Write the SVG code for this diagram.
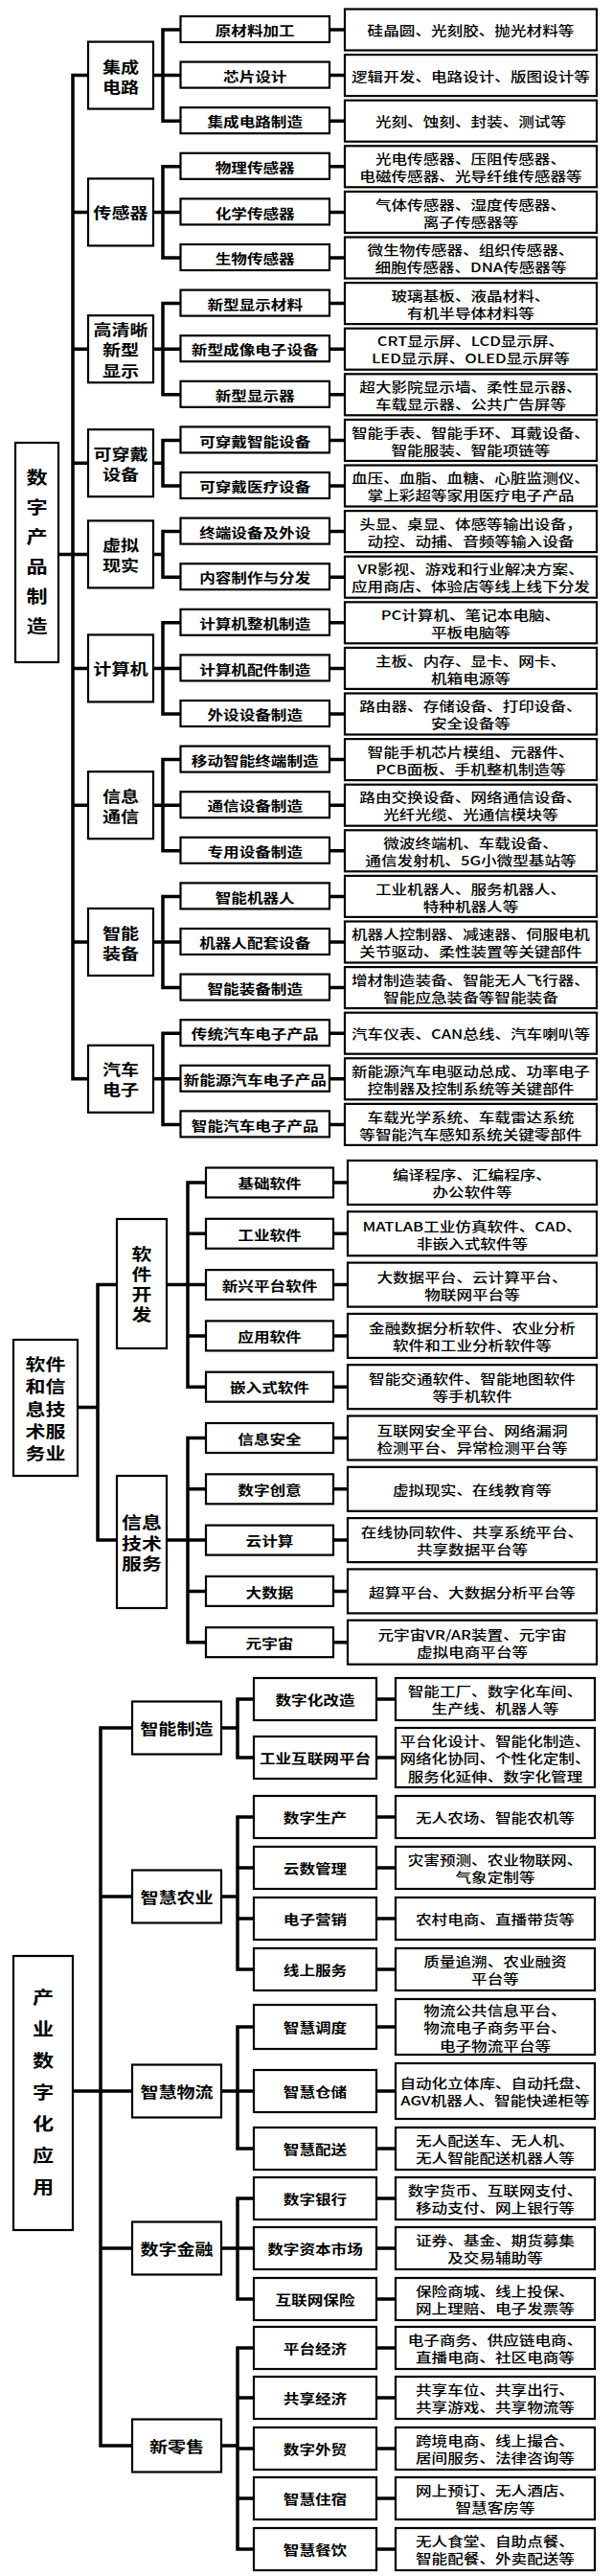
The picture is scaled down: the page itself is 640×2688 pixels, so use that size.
<svg xmlns="http://www.w3.org/2000/svg" width="640" height="2688" viewBox="0 0 640 2688">
<style>
.bx{fill:#fff;stroke:#000;stroke-width:2.2}
.cn path{fill:none;stroke:#000;stroke-width:3.5;stroke-linecap:square}
text{font-family:"Noto Sans CJK SC","Noto Sans CJK JP",sans-serif;fill:#000;text-anchor:middle;transform-box:fill-box;transform-origin:center;transform:scaleX(1.23)}
text,tspan{dominant-baseline:central}
.d{font-size:13.5px;font-weight:500}
.s{font-size:13.5px;font-weight:700}
.m{font-size:15.5px;font-weight:700}
.m2{font-size:17px;font-weight:700}
.r{font-size:18px;font-weight:700}
</style>
<rect width="640" height="2688" fill="#fff"/>
<g id="connectors" class="cn">
<path d="M76 78.6V1125.8M61 578.4H76M76 78.6H92M76 221.4H92M76 364.2H92M76 483.2H92M76 578.4H92M76 697.4H92M76 840.2H92M76 983H92M76 1125.8H92
M160 78.6H170M170 31V126.2M160 221.4H170M170 173.8V269M160 364.2H170M170 316.6V411.8M160 483.2H170M170 459.4V507M160 578.4H170M170 554.6V602.2M160 697.4H170M170 649.8V745M160 840.2H170M170 792.6V887.8M160 983H170M170 935.4V1030.6M160 1125.8H170M170 1078.2V1173.4
M170 31H188.5M170 78.6H188.5M170 126.2H188.5M170 173.8H188.5M170 221.4H188.5M170 269H188.5M170 316.6H188.5M170 364.2H188.5M170 411.8H188.5M170 459.4H188.5M170 507H188.5M170 554.6H188.5M170 602.2H188.5M170 649.8H188.5M170 697.4H188.5M170 745H188.5M170 792.6H188.5M170 840.2H188.5M170 887.8H188.5M170 935.4H188.5M170 983H188.5M170 1030.6H188.5M170 1078.2H188.5M170 1125.8H188.5M170 1173.4H188.5
M344 31H360M344 78.6H360M344 126.2H360M344 173.8H360M344 221.4H360M344 269H360M344 316.6H360M344 364.2H360M344 411.8H360M344 459.4H360M344 507H360M344 554.6H360M344 602.2H360M344 649.8H360M344 697.4H360M344 745H360M344 792.6H360M344 840.2H360M344 887.8H360M344 935.4H360M344 983H360M344 1030.6H360M344 1078.2H360M344 1125.8H360M344 1173.4H360"/>
<path d="M102 1340.6V1607.1M81 1468.5H102M102 1340.6H122M102 1607.1H122M174 1340.6H196M196 1234V1447.2M174 1607.1H196M196 1500.5V1713.7
M196 1234H215M196 1287.3H215M196 1340.6H215M196 1393.9H215M196 1447.2H215M196 1500.5H215M196 1553.8H215M196 1607.1H215M196 1660.4H215M196 1713.7H215
M348 1234H363M348 1287.3H363M348 1340.6H363M348 1393.9H363M348 1447.2H363M348 1500.5H363M348 1553.8H363M348 1607.1H363M348 1660.4H363M348 1713.7H363"/>
<path d="M105 1803V2552M76 2182H105M105 1803H138M105 1979H138M105 2182H138M105 2346H138M105 2552H138
M231 1803H248M248 1773V1834M231 1979H248M248 1896V2055M231 2182H248M248 2115V2242M231 2346H248M248 2294V2399M231 2552H248M248 2450V2660
M248 1773H265M248 1834H265M248 1896H265M248 1949H265M248 2002H265M248 2055H265M248 2115H265M248 2182H265M248 2242H265M248 2294H265M248 2346H265M248 2399H265M248 2450H265M248 2502H265M248 2555H265M248 2607H265M248 2660H265
M393 1773H413M393 1834H413M393 1896H413M393 1949H413M393 2002H413M393 2055H413M393 2115H413M393 2182H413M393 2242H413M393 2294H413M393 2346H413M393 2399H413M393 2450H413M393 2502H413M393 2555H413M393 2607H413M393 2660H413"/>
</g>

<g id="sec1">
<g id="n1"><rect class="bx" x="16" y="462" width="45" height="229"/><text class="r"><tspan x="38.5" y="497">数</tspan><tspan x="38.5" y="528">字</tspan><tspan x="38.5" y="559">产</tspan><tspan x="38.5" y="590">品</tspan><tspan x="38.5" y="621">制</tspan><tspan x="38.5" y="652">造</tspan></text></g>

<g id="n1a"><rect class="bx" x="92" y="43.6" width="68" height="70"/><text class="m"><tspan x="126" y="68.6">集成</tspan><tspan x="126" y="89.6">电路</tspan></text></g>
<g id="n1b"><rect class="bx" x="92" y="186.4" width="68" height="70"/><text class="m" x="126" y="221.4">传感器</text></g>
<g id="n1c"><rect class="bx" x="92" y="329.2" width="68" height="70"/><text class="m"><tspan x="126" y="342.7">高清晰</tspan><tspan x="126" y="364.2">新型</tspan><tspan x="126" y="385.7">显示</tspan></text></g>
<g id="n1d"><rect class="bx" x="92" y="448.2" width="68" height="70"/><text class="m"><tspan x="126" y="472.7">可穿戴</tspan><tspan x="126" y="493.7">设备</tspan></text></g>
<g id="n1e"><rect class="bx" x="92" y="543.4" width="68" height="70"/><text class="m"><tspan x="126" y="567.9">虚拟</tspan><tspan x="126" y="588.9">现实</tspan></text></g>
<g id="n1f"><rect class="bx" x="92" y="662.4" width="68" height="70"/><text class="m" x="126" y="697.4">计算机</text></g>
<g id="n1g"><rect class="bx" x="92" y="805.2" width="68" height="70"/><text class="m"><tspan x="126" y="829.7">信息</tspan><tspan x="126" y="850.7">通信</tspan></text></g>
<g id="n1h"><rect class="bx" x="92" y="948" width="68" height="70"/><text class="m"><tspan x="126" y="972.5">智能</tspan><tspan x="126" y="993.5">装备</tspan></text></g>
<g id="n1i"><rect class="bx" x="92" y="1090.8" width="68" height="70"/><text class="m"><tspan x="126" y="1115.3">汽车</tspan><tspan x="126" y="1136.3">电子</tspan></text></g>

<g id="r1_0"><rect class="bx" x="188.5" y="17" width="155.5" height="27"/><text class="s" x="266.25" y="31">原材料加工</text></g>
<g id="d1_0"><rect class="bx" x="360" y="9.5" width="263" height="43"/><text class="d" x="491.5" y="31">硅晶圆、光刻胶、抛光材料等</text></g>
<g id="r1_1"><rect class="bx" x="188.5" y="64.6" width="155.5" height="27"/><text class="s" x="266.25" y="78.6">芯片设计</text></g>
<g id="d1_1"><rect class="bx" x="360" y="57.1" width="263" height="43"/><text class="d" x="491.5" y="78.6">逻辑开发、电路设计、版图设计等</text></g>
<g id="r1_2"><rect class="bx" x="188.5" y="112.2" width="155.5" height="27"/><text class="s" x="266.25" y="126.2">集成电路制造</text></g>
<g id="d1_2"><rect class="bx" x="360" y="104.7" width="263" height="43"/><text class="d" x="491.5" y="126.2">光刻、蚀刻、封装、测试等</text></g>
<g id="r1_3"><rect class="bx" x="188.5" y="159.8" width="155.5" height="27"/><text class="s" x="266.25" y="173.8">物理传感器</text></g>
<g id="d1_3"><rect class="bx" x="360" y="152.3" width="263" height="43"/><text class="d"><tspan x="491.5" y="164.8">光电传感器、压阻传感器、</tspan><tspan x="491.5" y="182.8">电磁传感器、光导纤维传感器等</tspan></text></g>
<g id="r1_4"><rect class="bx" x="188.5" y="207.4" width="155.5" height="27"/><text class="s" x="266.25" y="221.4">化学传感器</text></g>
<g id="d1_4"><rect class="bx" x="360" y="199.9" width="263" height="43"/><text class="d"><tspan x="491.5" y="212.4">气体传感器、湿度传感器、</tspan><tspan x="491.5" y="230.4">离子传感器等</tspan></text></g>
<g id="r1_5"><rect class="bx" x="188.5" y="255" width="155.5" height="27"/><text class="s" x="266.25" y="269">生物传感器</text></g>
<g id="d1_5"><rect class="bx" x="360" y="247.5" width="263" height="43"/><text class="d"><tspan x="491.5" y="260">微生物传感器、组织传感器、</tspan><tspan x="491.5" y="278">细胞传感器、DNA传感器等</tspan></text></g>
<g id="r1_6"><rect class="bx" x="188.5" y="302.6" width="155.5" height="27"/><text class="s" x="266.25" y="316.6">新型显示材料</text></g>
<g id="d1_6"><rect class="bx" x="360" y="295.1" width="263" height="43"/><text class="d"><tspan x="491.5" y="307.6">玻璃基板、液晶材料、</tspan><tspan x="491.5" y="325.6">有机半导体材料等</tspan></text></g>
<g id="r1_7"><rect class="bx" x="188.5" y="350.2" width="155.5" height="27"/><text class="s" x="266.25" y="364.2">新型成像电子设备</text></g>
<g id="d1_7"><rect class="bx" x="360" y="342.7" width="263" height="43"/><text class="d"><tspan x="491.5" y="355.2">CRT显示屏、LCD显示屏、</tspan><tspan x="491.5" y="373.2">LED显示屏、OLED显示屏等</tspan></text></g>
<g id="r1_8"><rect class="bx" x="188.5" y="397.8" width="155.5" height="27"/><text class="s" x="266.25" y="411.8">新型显示器</text></g>
<g id="d1_8"><rect class="bx" x="360" y="390.3" width="263" height="43"/><text class="d"><tspan x="491.5" y="402.8">超大影院显示墙、柔性显示器、</tspan><tspan x="491.5" y="420.8">车载显示器、公共广告屏等</tspan></text></g>
<g id="r1_9"><rect class="bx" x="188.5" y="445.4" width="155.5" height="27"/><text class="s" x="266.25" y="459.4">可穿戴智能设备</text></g>
<g id="d1_9"><rect class="bx" x="360" y="437.9" width="263" height="43"/><text class="d"><tspan x="491.5" y="450.4">智能手表、智能手环、耳戴设备、</tspan><tspan x="491.5" y="468.4">智能服装、智能项链等</tspan></text></g>
<g id="r1_10"><rect class="bx" x="188.5" y="493" width="155.5" height="27"/><text class="s" x="266.25" y="507">可穿戴医疗设备</text></g>
<g id="d1_10"><rect class="bx" x="360" y="485.5" width="263" height="43"/><text class="d"><tspan x="491.5" y="498">血压、血脂、血糖、心脏监测仪、</tspan><tspan x="491.5" y="516">掌上彩超等家用医疗电子产品</tspan></text></g>
<g id="r1_11"><rect class="bx" x="188.5" y="540.6" width="155.5" height="27"/><text class="s" x="266.25" y="554.6">终端设备及外设</text></g>
<g id="d1_11"><rect class="bx" x="360" y="533.1" width="263" height="43"/><text class="d"><tspan x="491.5" y="545.6">头显、桌显、体感等输出设备，</tspan><tspan x="491.5" y="563.6">动控、动捕、音频等输入设备</tspan></text></g>
<g id="r1_12"><rect class="bx" x="188.5" y="588.2" width="155.5" height="27"/><text class="s" x="266.25" y="602.2">内容制作与分发</text></g>
<g id="d1_12"><rect class="bx" x="360" y="580.7" width="263" height="43"/><text class="d"><tspan x="491.5" y="593.2">VR影视、游戏和行业解决方案、</tspan><tspan x="491.5" y="611.2">应用商店、体验店等线上线下分发</tspan></text></g>
<g id="r1_13"><rect class="bx" x="188.5" y="635.8" width="155.5" height="27"/><text class="s" x="266.25" y="649.8">计算机整机制造</text></g>
<g id="d1_13"><rect class="bx" x="360" y="628.3" width="263" height="43"/><text class="d"><tspan x="491.5" y="640.8">PC计算机、笔记本电脑、</tspan><tspan x="491.5" y="658.8">平板电脑等</tspan></text></g>
<g id="r1_14"><rect class="bx" x="188.5" y="683.4" width="155.5" height="27"/><text class="s" x="266.25" y="697.4">计算机配件制造</text></g>
<g id="d1_14"><rect class="bx" x="360" y="675.9" width="263" height="43"/><text class="d"><tspan x="491.5" y="688.4">主板、内存、显卡、网卡、</tspan><tspan x="491.5" y="706.4">机箱电源等</tspan></text></g>
<g id="r1_15"><rect class="bx" x="188.5" y="731" width="155.5" height="27"/><text class="s" x="266.25" y="745">外设设备制造</text></g>
<g id="d1_15"><rect class="bx" x="360" y="723.5" width="263" height="43"/><text class="d"><tspan x="491.5" y="736">路由器、存储设备、打印设备、</tspan><tspan x="491.5" y="754">安全设备等</tspan></text></g>
<g id="r1_16"><rect class="bx" x="188.5" y="778.6" width="155.5" height="27"/><text class="s" x="266.25" y="792.6">移动智能终端制造</text></g>
<g id="d1_16"><rect class="bx" x="360" y="771.1" width="263" height="43"/><text class="d"><tspan x="491.5" y="783.6">智能手机芯片模组、元器件、</tspan><tspan x="491.5" y="801.6">PCB面板、手机整机制造等</tspan></text></g>
<g id="r1_17"><rect class="bx" x="188.5" y="826.2" width="155.5" height="27"/><text class="s" x="266.25" y="840.2">通信设备制造</text></g>
<g id="d1_17"><rect class="bx" x="360" y="818.7" width="263" height="43"/><text class="d"><tspan x="491.5" y="831.2">路由交换设备、网络通信设备、</tspan><tspan x="491.5" y="849.2">光纤光缆、光通信模块等</tspan></text></g>
<g id="r1_18"><rect class="bx" x="188.5" y="873.8" width="155.5" height="27"/><text class="s" x="266.25" y="887.8">专用设备制造</text></g>
<g id="d1_18"><rect class="bx" x="360" y="866.3" width="263" height="43"/><text class="d"><tspan x="491.5" y="878.8">微波终端机、车载设备、</tspan><tspan x="491.5" y="896.8">通信发射机、5G小微型基站等</tspan></text></g>
<g id="r1_19"><rect class="bx" x="188.5" y="921.4" width="155.5" height="27"/><text class="s" x="266.25" y="935.4">智能机器人</text></g>
<g id="d1_19"><rect class="bx" x="360" y="913.9" width="263" height="43"/><text class="d"><tspan x="491.5" y="926.4">工业机器人、服务机器人、</tspan><tspan x="491.5" y="944.4">特种机器人等</tspan></text></g>
<g id="r1_20"><rect class="bx" x="188.5" y="969" width="155.5" height="27"/><text class="s" x="266.25" y="983">机器人配套设备</text></g>
<g id="d1_20"><rect class="bx" x="360" y="961.5" width="263" height="43"/><text class="d"><tspan x="491.5" y="974">机器人控制器、减速器、伺服电机</tspan><tspan x="491.5" y="992">关节驱动、柔性装置等关键部件</tspan></text></g>
<g id="r1_21"><rect class="bx" x="188.5" y="1016.6" width="155.5" height="27"/><text class="s" x="266.25" y="1030.6">智能装备制造</text></g>
<g id="d1_21"><rect class="bx" x="360" y="1009.1" width="263" height="43"/><text class="d"><tspan x="491.5" y="1021.6">增材制造装备、智能无人飞行器、</tspan><tspan x="491.5" y="1039.6">智能应急装备等智能装备</tspan></text></g>
<g id="r1_22"><rect class="bx" x="188.5" y="1064.2" width="155.5" height="27"/><text class="s" x="266.25" y="1078.2">传统汽车电子产品</text></g>
<g id="d1_22"><rect class="bx" x="360" y="1056.7" width="263" height="43"/><text class="d" x="491.5" y="1078.2">汽车仪表、CAN总线、汽车喇叭等</text></g>
<g id="r1_23"><rect class="bx" x="188.5" y="1111.8" width="155.5" height="27"/><text class="s" x="266.25" y="1125.8">新能源汽车电子产品</text></g>
<g id="d1_23"><rect class="bx" x="360" y="1104.3" width="263" height="43"/><text class="d"><tspan x="491.5" y="1116.8">新能源汽车电驱动总成、功率电子</tspan><tspan x="491.5" y="1134.8">控制器及控制系统等关键部件</tspan></text></g>
<g id="r1_24"><rect class="bx" x="188.5" y="1159.4" width="155.5" height="27"/><text class="s" x="266.25" y="1173.4">智能汽车电子产品</text></g>
<g id="d1_24"><rect class="bx" x="360" y="1151.9" width="263" height="43"/><text class="d"><tspan x="491.5" y="1164.4">车载光学系统、车载雷达系统</tspan><tspan x="491.5" y="1182.4">等智能汽车感知系统关键零部件</tspan></text></g>
</g>

<g id="sec2">
<g id="n2"><rect class="bx" x="14" y="1398" width="67" height="142"/><text class="m2"><tspan x="47.5" y="1422">软件</tspan><tspan x="47.5" y="1445">和信</tspan><tspan x="47.5" y="1468.5">息技</tspan><tspan x="47.5" y="1492">术服</tspan><tspan x="47.5" y="1515">务业</tspan></text></g>
<g id="n2a"><rect class="bx" x="122" y="1272" width="52" height="135"/><text class="m2"><tspan x="148" y="1307">软</tspan><tspan x="148" y="1328">件</tspan><tspan x="148" y="1349">开</tspan><tspan x="148" y="1370">发</tspan></text></g>
<g id="n2b"><rect class="bx" x="122" y="1540" width="52" height="138"/><text class="m2"><tspan x="148" y="1587">信息</tspan><tspan x="148" y="1608.5">技术</tspan><tspan x="148" y="1630">服务</tspan></text></g>

<g id="r2_0"><rect class="bx" x="215" y="1218.5" width="133" height="31"/><text class="s" x="281.5" y="1234">基础软件</text></g>
<g id="d2_0"><rect class="bx" x="363" y="1211" width="260" height="46"/><text class="d"><tspan x="493" y="1225">编译程序、汇编程序、</tspan><tspan x="493" y="1243">办公软件等</tspan></text></g>
<g id="r2_1"><rect class="bx" x="215" y="1271.8" width="133" height="31"/><text class="s" x="281.5" y="1287.3">工业软件</text></g>
<g id="d2_1"><rect class="bx" x="363" y="1264.3" width="260" height="46"/><text class="d"><tspan x="493" y="1278.3">MATLAB工业仿真软件、CAD、</tspan><tspan x="493" y="1296.3">非嵌入式软件等</tspan></text></g>
<g id="r2_2"><rect class="bx" x="215" y="1325.1" width="133" height="31"/><text class="s" x="281.5" y="1340.6">新兴平台软件</text></g>
<g id="d2_2"><rect class="bx" x="363" y="1317.6" width="260" height="46"/><text class="d"><tspan x="493" y="1331.6">大数据平台、云计算平台、</tspan><tspan x="493" y="1349.6">物联网平台等</tspan></text></g>
<g id="r2_3"><rect class="bx" x="215" y="1378.4" width="133" height="31"/><text class="s" x="281.5" y="1393.9">应用软件</text></g>
<g id="d2_3"><rect class="bx" x="363" y="1370.9" width="260" height="46"/><text class="d"><tspan x="493" y="1384.9">金融数据分析软件、农业分析</tspan><tspan x="493" y="1402.9">软件和工业分析软件等</tspan></text></g>
<g id="r2_4"><rect class="bx" x="215" y="1431.7" width="133" height="31"/><text class="s" x="281.5" y="1447.2">嵌入式软件</text></g>
<g id="d2_4"><rect class="bx" x="363" y="1424.2" width="260" height="46"/><text class="d"><tspan x="493" y="1438.2">智能交通软件、智能地图软件</tspan><tspan x="493" y="1456.2">等手机软件</tspan></text></g>
<g id="r2_5"><rect class="bx" x="215" y="1485" width="133" height="31"/><text class="s" x="281.5" y="1500.5">信息安全</text></g>
<g id="d2_5"><rect class="bx" x="363" y="1477.5" width="260" height="46"/><text class="d"><tspan x="493" y="1491.5">互联网安全平台、网络漏洞</tspan><tspan x="493" y="1509.5">检测平台、异常检测平台等</tspan></text></g>
<g id="r2_6"><rect class="bx" x="215" y="1538.3" width="133" height="31"/><text class="s" x="281.5" y="1553.8">数字创意</text></g>
<g id="d2_6"><rect class="bx" x="363" y="1530.8" width="260" height="46"/><text class="d" x="493" y="1553.8">虚拟现实、在线教育等</text></g>
<g id="r2_7"><rect class="bx" x="215" y="1591.6" width="133" height="31"/><text class="s" x="281.5" y="1607.1">云计算</text></g>
<g id="d2_7"><rect class="bx" x="363" y="1584.1" width="260" height="46"/><text class="d"><tspan x="493" y="1598.1">在线协同软件、共享系统平台、</tspan><tspan x="493" y="1616.1">共享数据平台等</tspan></text></g>
<g id="r2_8"><rect class="bx" x="215" y="1644.9" width="133" height="31"/><text class="s" x="281.5" y="1660.4">大数据</text></g>
<g id="d2_8"><rect class="bx" x="363" y="1637.4" width="260" height="46"/><text class="d" x="493" y="1660.4">超算平台、大数据分析平台等</text></g>
<g id="r2_9"><rect class="bx" x="215" y="1698.2" width="133" height="31"/><text class="s" x="281.5" y="1713.7">元宇宙</text></g>
<g id="d2_9"><rect class="bx" x="363" y="1690.7" width="260" height="46"/><text class="d"><tspan x="493" y="1704.7">元宇宙VR/AR装置、元宇宙</tspan><tspan x="493" y="1722.7">虚拟电商平台等</tspan></text></g>
</g>

<g id="sec3">
<g id="n3"><rect class="bx" x="14" y="2041" width="62" height="286"/><text class="r"><tspan x="45" y="2083">产</tspan><tspan x="45" y="2116">业</tspan><tspan x="45" y="2149">数</tspan><tspan x="45" y="2182">字</tspan><tspan x="45" y="2215">化</tspan><tspan x="45" y="2248">应</tspan><tspan x="45" y="2281">用</tspan></text></g>
<g id="n3a"><rect class="bx" x="138" y="1775.5" width="93" height="55"/><text class="m" x="184.5" y="1803">智能制造</text></g>
<g id="n3b"><rect class="bx" x="138" y="1951.5" width="93" height="55"/><text class="m" x="184.5" y="1979">智慧农业</text></g>
<g id="n3c"><rect class="bx" x="138" y="2154.5" width="93" height="55"/><text class="m" x="184.5" y="2182">智慧物流</text></g>
<g id="n3d"><rect class="bx" x="138" y="2318.5" width="93" height="55"/><text class="m" x="184.5" y="2346">数字金融</text></g>
<g id="n3e"><rect class="bx" x="138" y="2524.5" width="93" height="55"/><text class="m" x="184.5" y="2552">新零售</text></g>

<g id="r3_0"><rect class="bx" x="265" y="1751" width="128" height="44"/><text class="s" x="329" y="1773">数字化改造</text></g>
<g id="d3_0"><rect class="bx" x="413" y="1751" width="208" height="44"/><text class="d"><tspan x="517" y="1764">智能工厂、数字化车间、</tspan><tspan x="517" y="1782">生产线、机器人等</tspan></text></g>
<g id="r3_1"><rect class="bx" x="265" y="1812" width="128" height="44"/><text class="s" x="329" y="1834">工业互联网平台</text></g>
<g id="d3_1"><rect class="bx" x="413" y="1803" width="208" height="62"/><text class="d"><tspan x="517" y="1815.7">平台化设计、智能化制造、</tspan><tspan x="517" y="1834">网络化协同、个性化定制、</tspan><tspan x="517" y="1852.3">服务化延伸、数字化管理</tspan></text></g>
<g id="r3_2"><rect class="bx" x="265" y="1874" width="128" height="44"/><text class="s" x="329" y="1896">数字生产</text></g>
<g id="d3_2"><rect class="bx" x="413" y="1874" width="208" height="44"/><text class="d" x="517" y="1896">无人农场、智能农机等</text></g>
<g id="r3_3"><rect class="bx" x="265" y="1927" width="128" height="44"/><text class="s" x="329" y="1949">云数管理</text></g>
<g id="d3_3"><rect class="bx" x="413" y="1927" width="208" height="44"/><text class="d"><tspan x="517" y="1940">灾害预测、农业物联网、</tspan><tspan x="517" y="1958">气象定制等</tspan></text></g>
<g id="r3_4"><rect class="bx" x="265" y="1980" width="128" height="44"/><text class="s" x="329" y="2002">电子营销</text></g>
<g id="d3_4"><rect class="bx" x="413" y="1980" width="208" height="44"/><text class="d" x="517" y="2002">农村电商、直播带货等</text></g>
<g id="r3_5"><rect class="bx" x="265" y="2033" width="128" height="44"/><text class="s" x="329" y="2055">线上服务</text></g>
<g id="d3_5"><rect class="bx" x="413" y="2033" width="208" height="44"/><text class="d"><tspan x="517" y="2046">质量追溯、农业融资</tspan><tspan x="517" y="2064">平台等</tspan></text></g>
<g id="r3_6"><rect class="bx" x="265" y="2092" width="128" height="46"/><text class="s" x="329" y="2115">智慧调度</text></g>
<g id="d3_6"><rect class="bx" x="413" y="2086" width="208" height="58"/><text class="d"><tspan x="517" y="2096.7">物流公共信息平台、</tspan><tspan x="517" y="2115">物流电子商务平台、</tspan><tspan x="517" y="2133.3">电子物流平台等</tspan></text></g>
<g id="r3_7"><rect class="bx" x="265" y="2160" width="128" height="44"/><text class="s" x="329" y="2182">智慧仓储</text></g>
<g id="d3_7"><rect class="bx" x="413" y="2153" width="208" height="58"/><text class="d"><tspan x="517" y="2173">自动化立体库、自动托盘、</tspan><tspan x="517" y="2191">AGV机器人、智能快递柜等</tspan></text></g>
<g id="r3_8"><rect class="bx" x="265" y="2220" width="128" height="44"/><text class="s" x="329" y="2242">智慧配送</text></g>
<g id="d3_8"><rect class="bx" x="413" y="2220" width="208" height="44"/><text class="d"><tspan x="517" y="2233">无人配送车、无人机、</tspan><tspan x="517" y="2251">无人智能配送机器人等</tspan></text></g>
<g id="r3_9"><rect class="bx" x="265" y="2272" width="128" height="44"/><text class="s" x="329" y="2294">数字银行</text></g>
<g id="d3_9"><rect class="bx" x="413" y="2272" width="208" height="44"/><text class="d"><tspan x="517" y="2285">数字货币、互联网支付、</tspan><tspan x="517" y="2303">移动支付、网上银行等</tspan></text></g>
<g id="r3_10"><rect class="bx" x="265" y="2324" width="128" height="44"/><text class="s" x="329" y="2346">数字资本市场</text></g>
<g id="d3_10"><rect class="bx" x="413" y="2324" width="208" height="44"/><text class="d"><tspan x="517" y="2337">证券、基金、期货募集</tspan><tspan x="517" y="2355">及交易辅助等</tspan></text></g>
<g id="r3_11"><rect class="bx" x="265" y="2377" width="128" height="44"/><text class="s" x="329" y="2399">互联网保险</text></g>
<g id="d3_11"><rect class="bx" x="413" y="2377" width="208" height="44"/><text class="d"><tspan x="517" y="2390">保险商城、线上投保、</tspan><tspan x="517" y="2408">网上理赔、电子发票等</tspan></text></g>
<g id="r3_12"><rect class="bx" x="265" y="2428" width="128" height="44"/><text class="s" x="329" y="2450">平台经济</text></g>
<g id="d3_12"><rect class="bx" x="413" y="2428" width="208" height="44"/><text class="d"><tspan x="517" y="2441">电子商务、供应链电商、</tspan><tspan x="517" y="2459">直播电商、社区电商等</tspan></text></g>
<g id="r3_13"><rect class="bx" x="265" y="2480" width="128" height="44"/><text class="s" x="329" y="2502">共享经济</text></g>
<g id="d3_13"><rect class="bx" x="413" y="2480" width="208" height="44"/><text class="d"><tspan x="517" y="2493">共享车位、共享出行、</tspan><tspan x="517" y="2511">共享游戏、共享物流等</tspan></text></g>
<g id="r3_14"><rect class="bx" x="265" y="2533" width="128" height="44"/><text class="s" x="329" y="2555">数字外贸</text></g>
<g id="d3_14"><rect class="bx" x="413" y="2533" width="208" height="44"/><text class="d"><tspan x="517" y="2546">跨境电商、线上撮合、</tspan><tspan x="517" y="2564">居间服务、法律咨询等</tspan></text></g>
<g id="r3_15"><rect class="bx" x="265" y="2585" width="128" height="44"/><text class="s" x="329" y="2607">智慧住宿</text></g>
<g id="d3_15"><rect class="bx" x="413" y="2585" width="208" height="44"/><text class="d"><tspan x="517" y="2598">网上预订、无人酒店、</tspan><tspan x="517" y="2616">智慧客房等</tspan></text></g>
<g id="r3_16"><rect class="bx" x="265" y="2638" width="128" height="44"/><text class="s" x="329" y="2660">智慧餐饮</text></g>
<g id="d3_16"><rect class="bx" x="413" y="2638" width="208" height="44"/><text class="d"><tspan x="517" y="2651">无人食堂、自助点餐、</tspan><tspan x="517" y="2669">智能配餐、外卖配送等</tspan></text></g>
</g>
</svg>
